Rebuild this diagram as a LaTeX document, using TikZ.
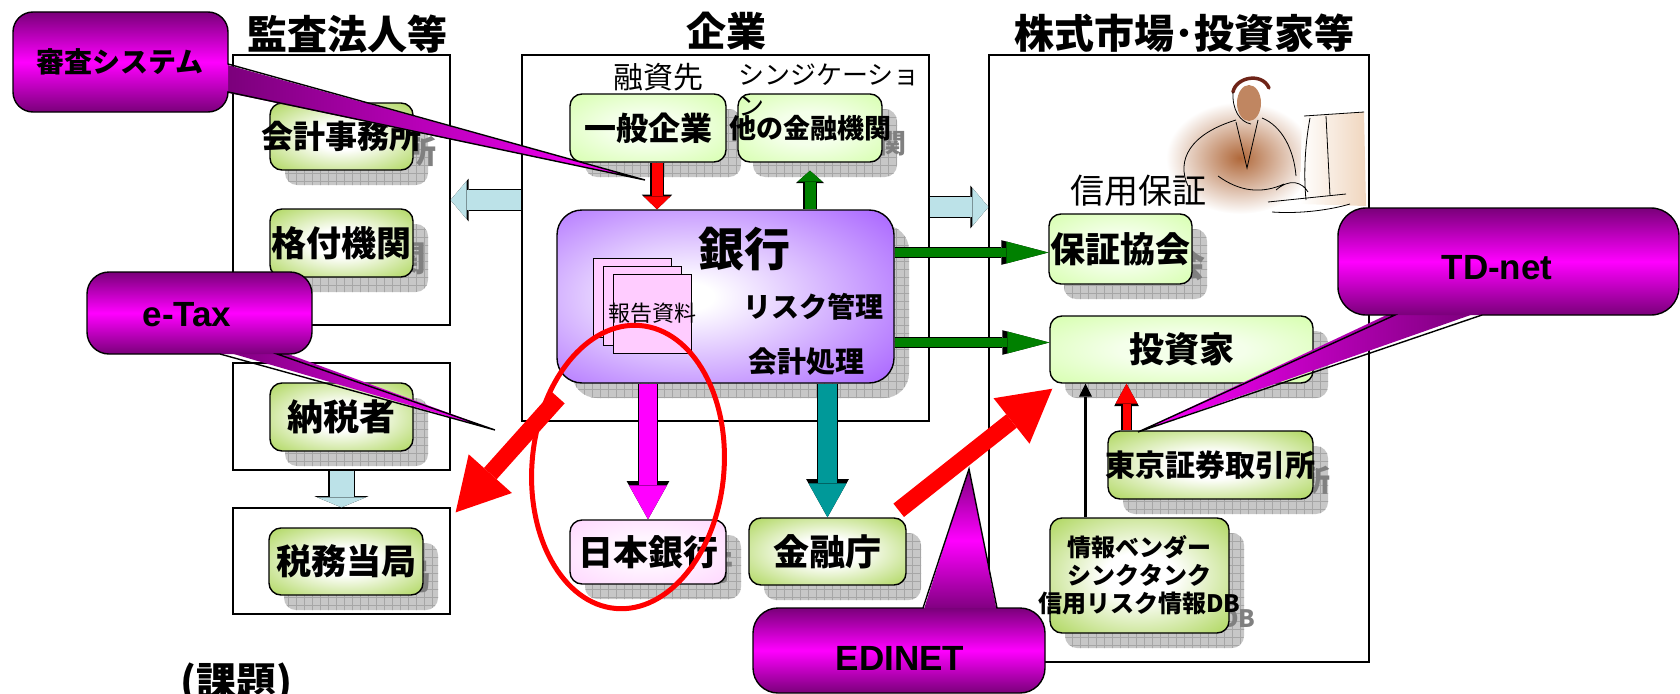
\documentclass[tikz,border=0pt]{standalone}
\usepackage{fontspec}
\setmainfont{Noto Sans CJK JP}
\newfontfamily\latinfont{Liberation Sans}
\usetikzlibrary{arrows.meta,patterns.meta}

\definecolor{leafgreen}{HTML}{99CC33}
\definecolor{palelime}{HTML}{CCFF99}
\definecolor{limecore}{HTML}{F4FFEA}
\definecolor{palepink}{HTML}{FFCCFF}
\definecolor{pinkcore}{HTML}{FFF5FF}
\definecolor{bankviolet}{HTML}{A35AFF}
\definecolor{balloonrim}{HTML}{7A007A}
\definecolor{ballooncore}{HTML}{FF00FF}
\definecolor{paleblue}{HTML}{BCE2E8}
\definecolor{darkgreen}{HTML}{008000}
\definecolor{tealblue}{HTML}{009999}
\definecolor{skin}{HTML}{B0683A}
\definecolor{hair}{HTML}{6E2418}
\definecolor{screen}{HTML}{F0D6BE}

% soft centre, coloured rim
\pgfdeclareradialshading{leafglow}{\pgfpointorigin}{color(0bp)=(white); color(10bp)=(white); color(42bp)=(leafgreen); color(100bp)=(leafgreen)}
\pgfdeclareradialshading{limeglow}{\pgfpointorigin}{color(0bp)=(limecore); color(12bp)=(limecore); color(44bp)=(palelime); color(100bp)=(palelime)}
\pgfdeclareradialshading{pinkglow}{\pgfpointorigin}{color(0bp)=(pinkcore); color(12bp)=(pinkcore); color(44bp)=(palepink); color(100bp)=(palepink)}
\pgfdeclareradialshading{bankglow}{\pgfpoint{-6bp}{0bp}}{color(0bp)=(white); color(4bp)=(white); color(40bp)=(bankviolet); color(100bp)=(bankviolet)}

\begin{document}
\begin{tikzpicture}[x=1pt, y=-1pt,
    frame/.style={draw, line width=1.2pt, inner sep=0pt},
    orgbox/.style={draw, line width=1.4pt, rounded corners=12, inner sep=0pt,
      align=center, shade},
    shadowbox/.style={rounded corners=12, inner sep=0pt, align=center,
      fill=black!22, text=black!50,
      postaction={pattern={Hatch[distance=8pt, line width=0.5pt]}, pattern color=black!35}},
    heading/.style={font=\fontsize{40}{40}\selectfont\bfseries, inner sep=0pt},
    remark/.style={font=\fontsize{#1}{#1}\selectfont, inner sep=0pt},
    block/.style n args={4}{draw=#1, line width=#2,
      -{Triangle[length=#3, width=#4, line width=0pt]},
      preaction={draw=black, line width=#2+2.4pt,
        -{Triangle[length=#3, width=#4, line width=0pt, scale=1.12]}}},
    bigred/.style={draw=red, line width=17pt,
      -{Triangle[length=52pt, width=58pt, line width=0pt]}},
    balloon/.style={top color=balloonrim, bottom color=balloonrim, middle color=ballooncore},
    balloontext/.style={font=\latinfont\fontsize{35}{35}\selectfont\bfseries},
  ]
  \useasboundingbox (0,0) rectangle (1680,693);

  % group frames
  \node[frame, minimum width=217, minimum height=270] (kansabox) at (341.5,190) {};
  \node[frame, minimum width=217, minimum height=107] (nozeibox) at (341.5,416.5) {};
  \node[frame, minimum width=217, minimum height=106] (zeimubox) at (341.5,561) {};
  \node[frame, minimum width=407, minimum height=366] (kigyobox) at (725.5,238) {};
  \node[frame, minimum width=380, minimum height=607] (marketbox) at (1179,358.5) {};

  \draw[block={paleblue}{20pt}{16pt}{38pt}] ([yshift=38pt]kigyobox.west) -- ([yshift=38pt]kigyobox.west -| kansabox.east);
  \draw[block={paleblue}{20pt}{16pt}{38pt}] ([yshift=31pt]kigyobox.east) -- ([yshift=31pt]kigyobox.east -| marketbox.west);
  \draw[block={paleblue}{24pt}{10pt}{48pt}] (nozeibox) -- (zeimubox);

  % man at a computer
  \shade[inner color=skin, outer color=white] (1240,158) ellipse [x radius=74, y radius=56];
  \shade[left color=white, right color=screen] (1302,116) -- (1364,112) -- (1366,206) -- (1300,204) -- cycle;
  \fill[skin!80!white] (1249,103) ellipse [x radius=12, y radius=18];
  \draw[hair, line width=3.5pt, line cap=round] (1233,92) .. controls (1236,77) and (1262,72) .. (1269,88);
  \draw[line width=0.8pt] (1233,92) .. controls (1232,110) and (1240,122) .. (1251,124)
    (1188,186) .. controls (1176,160) and (1190,134) .. (1236,120)
    (1262,118) .. controls (1282,126) and (1294,150) .. (1296,176)
    (1236,122) -- (1247,168) -- (1258,120)
    (1218,176) .. controls (1240,192) and (1262,194) .. (1284,184)
    (1276,190) .. controls (1290,178) and (1302,182) .. (1308,192)
    (1268,202) -- (1346,194)
    (1272,212) .. controls (1300,214) and (1330,210) .. (1350,204)
    (1310,118) .. controls (1304,150) and (1304,180) .. (1306,200)
    (1326,116) -- (1330,196)
    (1304,116) -- (1364,112);

  % boxes, each over its own grey shadow
  \foreach \nm/\x/\y/\w/\h/\sh/\fs/\txt in {
      kaikei/341.5/136.5/143/67/leafglow/32/{\makebox[0pt]{会計事務所}},
      kakuzuke/341.5/243/143/68/leafglow/35/格付機関,
      nozeisha/341.5/417/143/68/leafglow/36/納税者,
      zeimu/346/561.5/154/67/leafglow/35/税務当局,
      ippan/648/128/156/68/limeglow/32/一般企業,
      tahoka/810/128/144/68/limeglow/27/{\makebox[0pt]{他の金融機関}},
      nichigin/648/552/156/64/pinkglow/35/日本銀行,
      kinyucho/827.5/551.5/157/67/leafglow/36/金融庁,
      hosho/1120.5/249/143/70/limeglow/35/保証協会,
      toshika/1181.5/349.5/263/67/limeglow/35/投資家,
      tosho/1210.5/465/205/68/leafglow/30/{\makebox[0pt]{東京証券取引所}},
      vendor/1139.5/575.5/179/115/leafglow/24/{情報ベンダー\\[4pt]シンクタンク\\[4pt]\makebox[0pt]{信用リスク情報DB}}}{
    \node[shadowbox, minimum width=\w, minimum height=\h,
      font=\fontsize{\fs}{\fs}\selectfont\bfseries] at (\x+15,\y+15) {\txt};
    \node[orgbox, shading=\sh, minimum width=\w, minimum height=\h,
      font=\fontsize{\fs}{\fs}\selectfont\bfseries] (\nm) at (\x,\y) {\txt};
  }

  \node[shadowbox, rounded corners=25, minimum width=337, minimum height=173] at (740.5,311.5) {};
  \node[orgbox, rounded corners=25, shading=bankglow, minimum width=337, minimum height=173] (bank) at (725.5,296.5) {};
  \foreach \doc in {0,1,2}
    \draw[fill=palepink, line width=0.8pt] (593+10*\doc,258+8*\doc) rectangle +(78,79);
  \node[remark=22] (hokoku) at (652,313) {報告資料};
  \node[font=\fontsize{46}{46}\selectfont\bfseries] (ginko) at (744,249) {銀行};
  \node[font=\fontsize{28}{28}\selectfont\bfseries] (risk) at (813,307) {リスク管理};
  \node[font=\fontsize{29}{29}\selectfont\bfseries] (shori) at (806,362) {会計処理};

  \node[remark=30] (yushisaki) at (658,77) {融資先};
  \node[remark=26, anchor=north west, align=left] (syndicate) at (738,64) {シンジケーショ\\[5pt]ン};
  \node[remark=34] (shinyo) at (1138,191) {信用保証};

  % flows
  \draw[block={red}{11pt}{13pt}{27pt}] ([xshift=9pt]ippan.south) -- ([xshift=9pt]ippan.south |- bank.north);
  \draw[block={darkgreen}{11pt}{11pt}{25pt}] (tahoka.south |- bank.north) -- ([yshift=-8pt]tahoka.south);
  \draw[block={ballooncore}{18pt}{34pt}{38pt}] (nichigin.north |- bank.south) -- (nichigin.north);
  \draw[block={tealblue}{19pt}{34pt}{38pt}] (kinyucho.north |- bank.south) -- (kinyucho.north);
  \draw[block={darkgreen}{9pt}{42pt}{22pt}] ([yshift=44pt]bank.east) -- ([yshift=44pt]bank.east -| hosho.west);
  \draw[block={darkgreen}{9pt}{42pt}{22pt}] ([yshift=-46pt]bank.east) -- ([yshift=-46pt]bank.east -| toshika.west);
  \draw[line width=3pt, -{Triangle[length=13pt, width=13pt, line width=0pt]}] ([xshift=-54pt]vendor.north) -- ([xshift=-54pt]vendor.north |- toshika.south);
  \draw[block={red}{8pt}{20pt}{22pt}] ([xshift=-84pt]tosho.north) -- ([xshift=-84pt]tosho.north |- toshika.south);

  \node[heading] (kansatitle) at (347,34) {監査法人等};
  \node[heading] (kigyotitle) at (726,31) {企業};
  \node[heading] (markettitle) at (1184,33) {株式市場･投資家等};
  \node[heading] (kadai) at (236,684) {(課題)};

  \draw[red, line width=5pt, rotate around={-5:(628,467)}] (628,467) ellipse [x radius=96, y radius=142];
  \draw[bigred] ([shift={(2,14)}]bank.south west) -- ([shift={(5,5)}]zeimubox.north east);
  \draw[bigred] ([shift={(-8,-7)}]kinyucho.north east) -- ([shift={(3,5)}]toshika.south west);

  % callouts: tail and box shaded apart, one outline round both
  \shade[left color=balloonrim, right color=ballooncore] (224,64) -- (645,180) -- (224,92) -- cycle;
  \shade[balloon, rounded corners=20] (13,12) rectangle (228,112);
  \draw[line width=1.4pt] (33,12) -- (208,12) arc[start angle=270, end angle=360, radius=20]
    -- (228,64) -- (645,180) -- (228,92) arc[start angle=0, end angle=90, radius=20]
    -- (33,112) arc[start angle=90, end angle=180, radius=20]
    -- (13,32) arc[start angle=180, end angle=270, radius=20] -- cycle;
  \node[font=\fontsize{28}{28}\selectfont\bfseries] (shinsa) at (120,62) {審査システム};

  \shade[left color=balloonrim, right color=ballooncore] (220,350) -- (495,430) -- (277,350) -- cycle;
  \shade[balloon, rounded corners=22] (87,272) rectangle (312,354);
  \draw[line width=1.4pt] (109,272) -- (290,272) arc[start angle=270, end angle=360, radius=22]
    -- (312,332) arc[start angle=0, end angle=90, radius=22]
    -- (277,354) -- (495,430) -- (220,354)
    -- (109,354) arc[start angle=90, end angle=180, radius=22]
    -- (87,294) arc[start angle=180, end angle=270, radius=22] -- cycle;
  \node[balloontext] (etax) at (187,315) {e-Tax};

  \shade[left color=ballooncore, right color=balloonrim] (1138,432) -- (1395,311) -- (1482,311) -- cycle;
  \shade[balloon, rounded corners=28] (1338,208) rectangle (1679,315);
  \draw[line width=1.4pt] (1366,208) -- (1651,208) arc[start angle=270, end angle=360, radius=28]
    -- (1679,287) arc[start angle=0, end angle=90, radius=28]
    -- (1482,315) -- (1138,432) -- (1395,315)
    -- (1366,315) arc[start angle=90, end angle=180, radius=28]
    -- (1338,236) arc[start angle=180, end angle=270, radius=28] -- cycle;
  \node[balloontext] (tdnet) at (1497,268) {TD-net};

  \shade[balloon] (923,612) -- (969,469) -- (997,612) -- cycle;
  \shade[balloon, rounded corners=25] (753,608) rectangle (1045,693);
  \draw[line width=1.4pt] (778,608) -- (923,608) -- (969,469) -- (997,608)
    -- (1020,608) arc[start angle=270, end angle=360, radius=25]
    -- (1045,668) arc[start angle=0, end angle=90, radius=25]
    -- (778,693) arc[start angle=90, end angle=180, radius=25]
    -- (753,633) arc[start angle=180, end angle=270, radius=25] -- cycle;
  \node[balloontext] (edinet) at (900,658) {EDINET};
\end{tikzpicture}
\end{document}
